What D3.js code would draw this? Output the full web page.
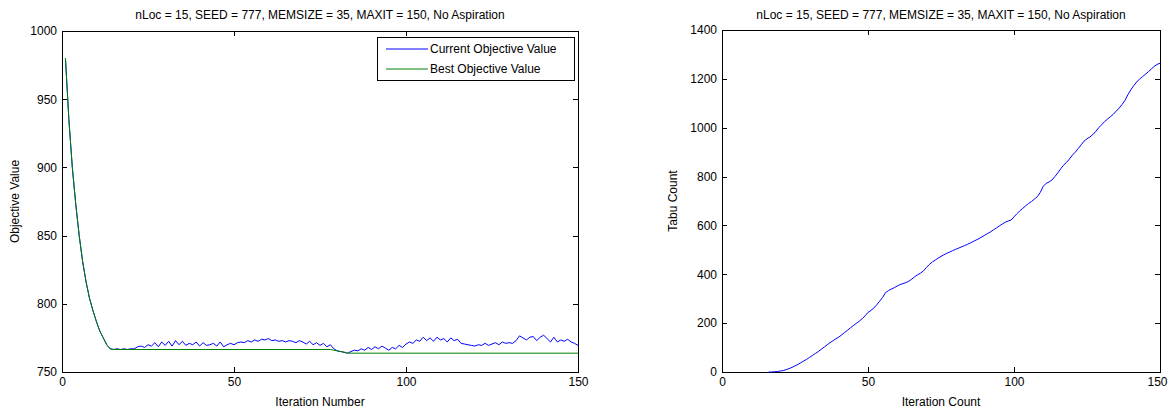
<!DOCTYPE html>
<html>
<head>
<meta charset="utf-8">
<script src="https://cdn.jsdelivr.net/npm/d3@7"></script>
<style>
  body { margin: 0; background: #fff; }
  svg { display: block; font-family: "Liberation Sans", Arial, sans-serif; }
  .axis text { font-size: 12px; fill: #000; }
  .axis path, .axis line { stroke: #000; shape-rendering: crispEdges; }
</style>
</head>
<body>
<svg id="chart" width="1169" height="411"></svg>
<script>
const titleText = 'nLoc = 15, SEED = 777, MEMSIZE = 35, MAXIT = 150, No Aspiration';

// current objective value, one per iteration (1..150)
const currentObjective = [
  980, 935, 900, 873, 850, 831, 816, 804, 795, 787, 780, 775, 770, 767, 766.5,
  767, 766.5, 767, 766.5, 767, 767,
  768.5, 769, 768, 770, 769, 771.5, 768.5, 772, 769.5, 772.5, 769, 773, 770, 772.5,
  769.5, 771, 770, 772, 769, 771.5, 769.5, 770, 771, 769, 772, 768.5, 770, 771, 770,
  771.5, 772, 771.5, 773, 772, 773.5, 772.5, 774, 773.5, 774.5,
  773, 773.5, 772.5, 773, 772, 773, 772.5, 771.5, 773, 772, 770.5, 772.5, 770, 771.5, 769.5, 771, 768.5, 770,
  767, 765.5, 765, 764.5, 763.8,
  765, 766, 765.5, 767, 766, 768, 766.5, 768.5, 767, 769, 767.5, 766, 768, 767, 769.5, 768, 770.5,
  772, 771, 773.5, 772.5, 775.5, 773, 775, 772.5, 775.5, 773.5, 774.5, 772, 775, 773, 774,
  771, 770.5, 770, 769.5, 769, 770, 769.5, 771, 769.5, 770.5, 771.5, 770, 772, 771, 771.5, 771,
  773, 776.5, 775, 773.5, 775.5, 776, 773, 775.5, 777, 774.5, 772, 775.5, 772, 773.5, 772.5, 774, 772, 771, 769.5
];

// best objective value as [iteration, value] corners of its path
const bestObjective = [
  [1, 980], [2, 935], [3, 900], [4, 873], [5, 850], [6, 831], [7, 816], [8, 804],
  [9, 795], [10, 787], [11, 780], [12, 775], [13, 770], [14, 767], [15, 766.5],
  [78, 766.5], [79, 766], [80, 765.5], [81, 765], [82, 764.5], [83, 763.8], [150, 763.8]
];

// tabu count, iterations 16..150
const tabuStart = 16;
const tabuCount = [
  0, 0, 1, 2, 4, 6, 10, 14, 19, 25, 31, 38, 45, 52, 60,
  68, 76, 84, 93, 102, 111, 120, 128, 136, 143, 152, 162, 171, 181, 190,
  199, 208, 218, 230, 244, 252, 262, 275, 290, 305, 325, 333, 340, 345, 352,
  358, 362, 366, 372, 380, 390, 398, 405, 414, 428, 440, 450, 458, 466, 473,
  480, 486, 491, 497, 502, 507, 512, 517, 522, 528, 534, 540, 546, 553, 560,
  567, 574, 582, 590, 598, 606, 613, 618, 622, 635, 648, 660, 670, 680, 690,
  698, 708, 718, 735, 760, 772, 778, 786, 800, 815, 832, 847, 858, 872, 888,
  900, 915, 930, 945, 955, 962, 972, 985, 1000, 1012, 1025, 1035, 1045, 1055, 1068,
  1080, 1095, 1112, 1135, 1155, 1172, 1187, 1199, 1209, 1219, 1229, 1240, 1251, 1259, 1264
];

const xTicks = [0, 50, 100, 150];
const objTicks = [750, 800, 850, 900, 950, 1000];
const tabuTicks = [0, 200, 400, 600, 800, 1000, 1200, 1400];

const svg = d3.select('#chart');
const fmt = d3.format('d');

function drawFrame(x, y, yTicks, xLabel, yLabel, yLabelX) {
  const [x0, x1] = x.range();
  const [y0, y1] = y.range();
  const g = svg.append('g');

  const bottom = g.append('g').attr('class', 'axis')
    .attr('transform', `translate(0,${y0})`)
    .call(d3.axisBottom(x).tickValues(xTicks).tickSize(-5).tickSizeOuter(0).tickPadding(5).tickFormat(fmt));
  // keep the last label inside the window
  bottom.selectAll('.tick text').filter((d) => x(d) + 10 > 1169).attr('dx', -3);
  g.append('g').attr('class', 'axis')
    .attr('transform', `translate(0,${y1})`)
    .call(d3.axisTop(x).tickValues(xTicks).tickSize(-5).tickSizeOuter(0).tickFormat(''));
  g.append('g').attr('class', 'axis')
    .attr('transform', `translate(${x0},0)`)
    .call(d3.axisLeft(y).tickValues(yTicks).tickSize(-5).tickSizeOuter(0).tickPadding(5).tickFormat(fmt));
  g.append('g').attr('class', 'axis')
    .attr('transform', `translate(${x1},0)`)
    .call(d3.axisRight(y).tickValues(yTicks).tickSize(-5).tickSizeOuter(0).tickFormat(''));

  g.append('text')
    .attr('x', (x0 + x1) / 2).attr('y', 19)
    .attr('text-anchor', 'middle').attr('font-size', 12)
    .text(titleText);
  g.append('text')
    .attr('x', (x0 + x1) / 2).attr('y', 406)
    .attr('text-anchor', 'middle').attr('font-size', 12)
    .text(xLabel);
  g.append('text')
    .attr('transform', `translate(${yLabelX},${(y0 + y1) / 2}) rotate(-90)`)
    .attr('text-anchor', 'middle').attr('font-size', 12)
    .text(yLabel);
  return g;
}

// left: objective value
const x1 = d3.scaleLinear().domain([0, 150]).range([62, 578]);
const y1 = d3.scaleLinear().domain([750, 1000]).range([372, 31]);
const gL = drawFrame(x1, y1, objTicks, 'Iteration Number', 'Objective Value', 19);

gL.append('path')
  .datum(currentObjective)
  .attr('fill', 'none').attr('stroke', '#0000ff').attr('stroke-width', 1)
  .attr('d', d3.line().x((d, i) => x1(i + 1)).y((d) => y1(d)));
gL.append('path')
  .datum(bestObjective)
  .attr('fill', 'none').attr('stroke', '#008000').attr('stroke-width', 1)
  .attr('d', d3.line().x((d) => x1(d[0])).y((d) => y1(d[1])));

// legend
const legend = gL.append('g').attr('transform', 'translate(377,37)');
legend.append('rect')
  .attr('width', 197).attr('height', 43)
  .attr('fill', '#fff').attr('stroke', '#000').attr('shape-rendering', 'crispEdges');
const legendItems = [
  { label: 'Current Objective Value', color: '#0000ff' },
  { label: 'Best Objective Value', color: '#008000' }
];
legendItems.forEach((item, i) => {
  const row = legend.append('g').attr('transform', `translate(0,${12 + i * 20})`);
  row.append('line').attr('x1', 9).attr('x2', 51).attr('stroke', item.color);
  row.append('text').attr('x', 53).attr('y', 4).attr('font-size', 12).text(item.label);
});

// right: tabu count
const x2 = d3.scaleLinear().domain([0, 150]).range([722, 1160]);
const y2 = d3.scaleLinear().domain([0, 1400]).range([372, 30]);
const gR = drawFrame(x2, y2, tabuTicks, 'Iteration Count', 'Tabu Count', 677);

gR.append('path')
  .datum(tabuCount)
  .attr('fill', 'none').attr('stroke', '#0000ff').attr('stroke-width', 1)
  .attr('d', d3.line().x((d, i) => x2(i + tabuStart)).y((d) => y2(d)));
</script>
</body>
</html>
